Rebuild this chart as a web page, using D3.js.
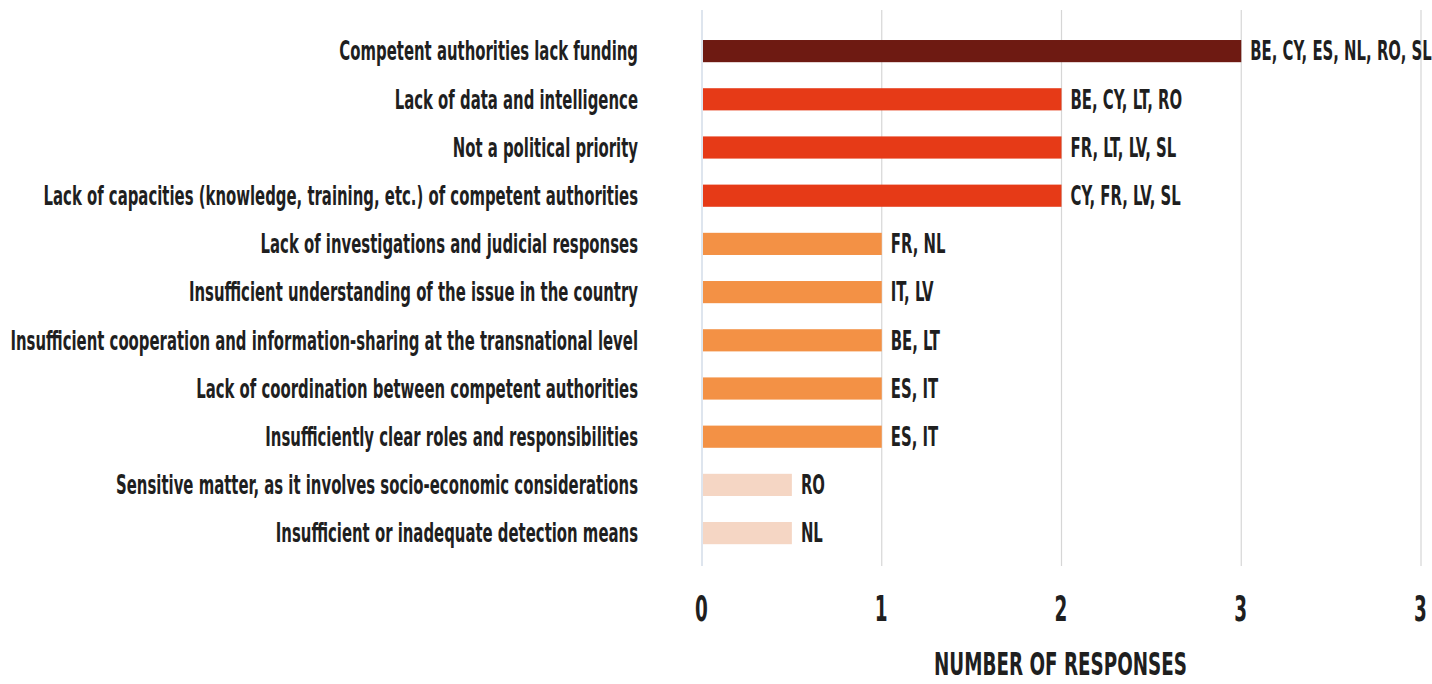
<!DOCTYPE html>
<html>
<head>
<meta charset="utf-8">
<script src="https://cdn.jsdelivr.net/npm/d3@7"></script>
<style>
  html, body { margin: 0; padding: 0; background: #ffffff; }
  svg { display: block; }
  .lbl { font-family: 'DejaVu Sans Condensed', 'DejaVu Sans', sans-serif; font-weight: bold; fill: #1f1f1f; }
</style>
</head>
<body>
<svg id="chart" width="1432" height="684"></svg>
<script>
// Obstacles reported, with the countries that named each one
const categories = [
  "Competent authorities lack funding",
  "Lack of data and intelligence",
  "Not a political priority",
  "Lack of capacities (knowledge, training, etc.) of competent authorities",
  "Lack of investigations and judicial responses",
  "Insufficient understanding of the issue in the country",
  "Insufficient cooperation and information-sharing at the transnational level",
  "Lack of coordination between competent authorities",
  "Insufficiently clear roles and responsibilities",
  "Sensitive matter, as it involves socio-economic considerations",
  "Insufficient or inadequate detection means"
];
const countries = [
  "BE, CY, ES, NL, RO, SL",
  "BE, CY, LT, RO",
  "FR, LT, LV, SL",
  "CY, FR, LV, SL",
  "FR, NL",
  "IT, LV",
  "BE, LT",
  "ES, IT",
  "ES, IT",
  "RO",
  "NL"
];
// number of countries citing each obstacle
const responses = [6, 4, 4, 4, 2, 2, 2, 2, 2, 1, 1];
const tickValues = [0, 2, 4, 6, 8];
const tickLabels = ["0", "1", "2", "3", "3"];
const axisTitle = "NUMBER OF RESPONSES";

const tiers = { 6: "#6e1a12", 4: "#e63a17", 2: "#f39145", 1: "#f5d6c4" };

const svg = d3.select("#chart");
const x = d3.scaleLinear().domain([0, 8]).range([702, 1421]);
const y = d3.scaleBand().domain(categories).range([27, 557.2])
  .paddingInner(0.54).paddingOuter(0.27);

// vertical grid
svg.append("g").selectAll("line").data(tickValues.slice(1)).join("line")
  .attr("x1", d => x(d)).attr("x2", d => x(d))
  .attr("y1", 10).attr("y2", 566)
  .attr("stroke", "#d6d6d6").attr("stroke-width", 1.2);
svg.append("line")
  .attr("x1", x(0)).attr("x2", x(0)).attr("y1", 10).attr("y2", 566)
  .attr("stroke", "#d3dde8").attr("stroke-width", 1.5);

// bars
svg.append("g").selectAll("rect").data(responses).join("rect")
  .attr("x", x(0) + 1)
  .attr("y", (d, i) => y(categories[i]))
  .attr("width", d => x(d) - x(0) - 1)
  .attr("height", y.bandwidth())
  .attr("fill", d => tiers[d]);

// condensed look: squeeze the glyphs horizontally so the longest label fits its column
const labelSize = 26;
const probe = svg.append("text").attr("class", "lbl").attr("font-size", labelSize)
  .text(categories[6]);
const sx = 628 / probe.node().getComputedTextLength();
probe.remove();

// category labels
svg.append("g").selectAll("text").data(categories).join("text")
  .attr("class", "lbl")
  .attr("transform", d => `translate(638,${y(d) + y.bandwidth() / 2}) scale(${sx},1)`)
  .attr("text-anchor", "end").attr("dy", "0.36em")
  .attr("font-size", labelSize)
  .text(d => d);

// country labels at bar ends
svg.append("g").selectAll("text").data(responses).join("text")
  .attr("class", "lbl")
  .attr("transform", (d, i) => `translate(${x(d) + 9},${y(categories[i]) + y.bandwidth() / 2}) scale(${sx},1)`)
  .attr("dy", "0.36em")
  .attr("font-size", labelSize)
  .text((d, i) => countries[i]);

// x axis
const axis = d3.axisBottom(x).tickValues(tickValues)
  .tickFormat((d, i) => tickLabels[i]).tickSize(0).tickPadding(0);
const ax = svg.append("g").call(axis);
ax.select(".domain").remove();
ax.selectAll(".tick text")
  .attr("class", "lbl").attr("font-size", 35).attr("font-family", null)
  .attr("fill", "#1f1f1f").attr("y", 0).attr("dy", 0)
  .attr("transform", `translate(-1,621) scale(${sx * 0.92},1)`);

svg.append("text").attr("class", "lbl")
  .attr("transform", `translate(${(x(0) + x(8)) / 2 - 1},675) scale(${sx * 1.0},1)`)
  .attr("text-anchor", "middle").attr("font-size", 32)
  .text(axisTitle);
</script>
</body>
</html>
